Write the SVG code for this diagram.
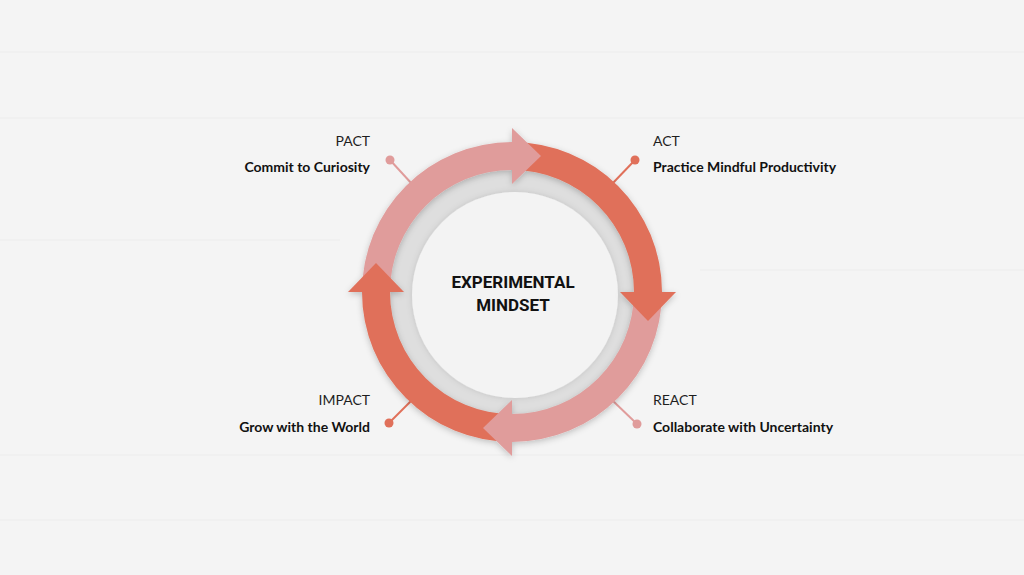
<svg xmlns="http://www.w3.org/2000/svg" width="1024" height="575" viewBox="0 0 1024 575">
  <defs>
    <filter id="ringShadow" x="-20%" y="-20%" width="140%" height="140%">
      <feDropShadow dx="0" dy="2" stdDeviation="3" flood-color="#000" flood-opacity="0.22"/>
    </filter>
    <filter id="discShadow" x="-20%" y="-20%" width="140%" height="140%">
      <feDropShadow dx="0" dy="0" stdDeviation="3" flood-color="#000" flood-opacity="0.12"/>
    </filter>
  </defs>
  <style>
    .bg { fill: #f4f4f4; }
    .grain { stroke: #ececec; stroke-width: 1; fill: none; }
    .dark { fill: #e0705a; }
    .pink { fill: #e09c9b; }
    .lnDark { stroke: #e0705a; stroke-width: 2; }
    .lnPink { stroke: #e09c9b; stroke-width: 2; }
    .tag { font-family: Lato, "Liberation Sans", sans-serif; font-size: 14px; fill: #1e1e1e; }
    .desc { font-family: Lato, "Liberation Sans", sans-serif; font-size: 14px; font-weight: 700; fill: #111; }
    .title { font-family: Roboto, "Liberation Sans", sans-serif; font-size: 17px; font-weight: 700; fill: #111; }
  </style>

  <rect class="bg" x="0" y="0" width="1024" height="575"/>
  <g id="texture">
    <path class="grain" d="M0 52 H1024"/>
    <path class="grain" d="M0 118 H1024"/>
    <path class="grain" d="M0 240 H340"/>
    <path class="grain" d="M700 270 H1024"/>
    <path class="grain" d="M0 455 H1024"/>
    <path class="grain" d="M0 520 H1024"/>
  </g>

  <g id="connectors">
    <line class="lnPink" x1="390" y1="160" x2="412" y2="184"/>
    <line class="lnDark" x1="635" y1="160" x2="612" y2="184"/>
    <line class="lnPink" x1="637" y1="424" x2="612" y2="400"/>
    <line class="lnDark" x1="389" y1="423" x2="412" y2="400"/>
    <circle class="pink" cx="390" cy="160" r="4.5"/>
    <circle class="dark" cx="635" cy="160" r="4.5"/>
    <circle class="pink" cx="637" cy="424" r="4.5"/>
    <circle class="dark" cx="389" cy="423" r="4.5"/>
  </g>

  <g id="center">
    <circle cx="512" cy="292" r="124" fill="#dedede"/>
    <circle cx="515" cy="295" r="103" fill="#f3f3f3" filter="url(#discShadow)"/>
    <text class="title" x="513" y="288" text-anchor="middle">EXPERIMENTAL</text>
    <text class="title" x="513" y="311" text-anchor="middle">MINDSET</text>
  </g>

  <g id="cycle" filter="url(#ringShadow)">
    <path class="pink" d="M362 292 A150 150 0 0 1 512 142 L512 170 A122 122 0 0 0 390 292 Z"/>
    <path class="dark" d="M512 142 A150 150 0 0 1 662 292 L634 292 A122 122 0 0 0 512 170 Z"/>
    <path class="pink" d="M662 292 A150 150 0 0 1 512 442 L512 414 A122 122 0 0 0 634 292 Z"/>
    <path class="dark" d="M512 442 A150 150 0 0 1 362 292 L390 292 A122 122 0 0 0 512 414 Z"/>
    <polygon class="pink" points="512,128 512,184 541,156"/>
    <polygon class="dark" points="620,292 676,292 648,321"/>
    <polygon class="pink" points="512,400 512,456 483,428"/>
    <polygon class="dark" points="348,292 404,292 376,263"/>
  </g>

  <g id="node-pact">
    <text class="tag" x="370" y="146" text-anchor="end">PACT</text>
    <text class="desc" x="370" y="172" text-anchor="end">Commit to Curiosity</text>
  </g>
  <g id="node-act">
    <text class="tag" x="653" y="146">ACT</text>
    <text class="desc" x="653" y="172">Practice Mindful Productivity</text>
  </g>
  <g id="node-react">
    <text class="tag" x="653" y="405">REACT</text>
    <text class="desc" x="653" y="432">Collaborate with Uncertainty</text>
  </g>
  <g id="node-impact">
    <text class="tag" x="370" y="405" text-anchor="end">IMPACT</text>
    <text class="desc" x="370" y="432" text-anchor="end">Grow with the World</text>
  </g>
</svg>
